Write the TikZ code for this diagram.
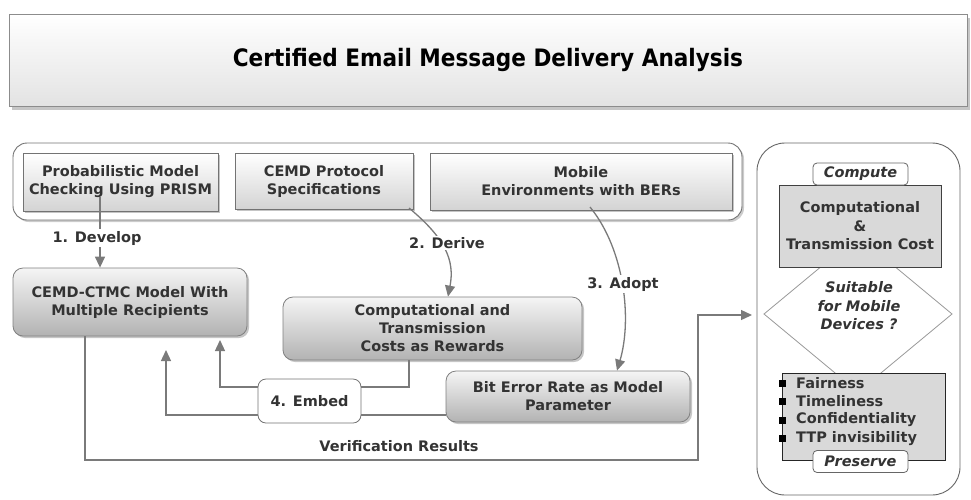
\documentclass[tikz,border=0pt]{standalone}
\usepackage{fontspec}
\setmainfont{DejaVu Sans}
\newfontfamily\titlefont{DejaVu Sans Condensed}
\usetikzlibrary{arrows.meta,shadows,calc}
\definecolor{txt}{HTML}{333333}
\definecolor{ln}{HTML}{7A7A7A}
\tikzset{
  every node/.style={text=txt},
  boxfont/.style={font=\fontsize{14.5}{18}\selectfont\bfseries},
  topbox/.style={boxfont, rectangle, draw=black!55, line width=0.8pt, top color=white, bottom color=black!17, drop shadow={shadow xshift=2pt, shadow yshift=-2pt, opacity=0.45}, align=center, inner sep=0pt},
  rbox/.style={boxfont, rectangle, rounded corners=10pt, draw=black!50, line width=0.8pt, top color=black!4, bottom color=black!30, drop shadow={shadow xshift=2pt, shadow yshift=-2pt, opacity=0.45}, align=center, inner sep=0pt},
  lbl/.style={boxfont, fill=white, inner sep=1.5pt},
  conn/.style={draw=ln, line width=1.3pt},
  arr/.style={conn, -{Triangle[length=11pt,width=10pt]}},
  tag/.style={font=\fontsize{14.5}{18}\selectfont\itshape\bfseries, rectangle, rounded corners=4pt, draw=black!60, line width=0.8pt, fill=white, inner sep=0pt, minimum width=95pt, minimum height=22pt},
}
\begin{document}
\begin{tikzpicture}[x=1pt,y=-1pt]
\useasboundingbox (0,0) rectangle (971,499);
% title
\node[rectangle, draw=black!45, line width=0.8pt, top color=white, bottom color=black!11, drop shadow={shadow xshift=3pt, shadow yshift=-4pt, opacity=0.45}, minimum width=958pt, minimum height=92pt, inner sep=0pt, font=\titlefont\fontsize{24}{28}\selectfont\bfseries, text=black] (title) at (488,60) {Certified Email Message Delivery Analysis};
% top container
\node[rectangle, rounded corners=14pt, draw=black!55, line width=0.9pt, fill=white, drop shadow={shadow xshift=2pt, shadow yshift=-2pt, opacity=0.4}, minimum width=729pt, minimum height=77pt, inner sep=0pt] (top) at (377.5,181.5) {};
\node[topbox, minimum width=195pt, minimum height=58pt] (prism) at (120.5,182) {Probabilistic Model\\Checking Using PRISM};
\node[topbox, minimum width=178pt, minimum height=56pt] (spec) at (324,181) {CEMD Protocol\\Specifications};
\node[topbox, minimum width=302pt, minimum height=57pt] (mobile) at (581,181.5) {Mobile\\Environments with BERs};
% middle boxes
\node[rbox, minimum width=234pt, minimum height=68pt] (ctmc) at (130,302) {CEMD-CTMC Model With\\Multiple Recipients};
\node[rbox, minimum width=299pt, minimum height=63pt] (comp) at (432.5,328.5) {Computational and\\Transmission\\Costs as Rewards};
\node[rbox, minimum width=244pt, minimum height=51pt] (ber) at (568,396.5) {Bit Error Rate as Model\\Parameter};
\node[boxfont, rectangle, rounded corners=8pt, draw=black!55, line width=0.8pt, fill=white, minimum width=103pt, minimum height=44pt, inner sep=0pt] (embed) at (309.5,401) {4. Embed};
% coordinates
\coordinate (d1) at (100,197);
\coordinate (d2) at (409,208);
\coordinate (d3) at (590,207);
\coordinate (e1) at (409,387);
\coordinate (e2) at (220,340);
\coordinate (f1) at (446,415);
\coordinate (f2) at (166,350);
\coordinate (v0) at (85,336);
\coordinate (v1) at (698,460);
\coordinate (v2) at (752,315);
% connectors
\draw[arr] (d1) -- (d1 |- ctmc.north);
\node[lbl] (l1) at (97,238) {1. Develop};
\draw[arr] (d2) .. controls (445,238) and (455,260) .. (comp.north -| 448,0);
\node[lbl] (l2) at (447,243) {2. Derive};
\draw[arr] (d3) .. controls (625,250) and (632,320) .. (ber.north -| 617,0);
\node[lbl] (l3) at (623,284) {3. Adopt};
\draw[conn] (comp.south -| e1) |- (e1 -| embed.east);
\draw[arr] (e1 -| embed.west) -| (e2);
\draw[conn] (f1) -- (f1 -| embed.east);
\draw[arr] (f1 -| embed.west) -| (f2);
\draw[arr] (v0) |- (v1) |- (v2);
\node[boxfont] (vr) at (399,446) {Verification Results};
% right container
\node[rectangle, rounded corners=28pt, draw=black!60, line width=0.9pt, fill=white, minimum width=203pt, minimum height=352pt, inner sep=0pt] (right) at (858.5,319) {};
\draw[draw=black!40, line width=0.8pt, fill=white] (764,314) -- (858,236) -- (952,314) -- (858,392) -- cycle;
\node[font=\fontsize{14.5}{18.5}\selectfont\itshape\bfseries, align=center] (suit) at (859,306) {Suitable\\for Mobile\\Devices ?};
\node[rectangle, draw=black!75, line width=0.8pt, fill=black!15, minimum width=162pt, minimum height=82pt, inner sep=0pt, align=center, font=\fontsize{14.5}{18.5}\selectfont\bfseries] (cost) at (860,226) {Computational\\\&\\Transmission Cost};
\node[tag] (compute) at (860.5,174) {Compute};
\node[rectangle, draw=black!85, line width=0.8pt, fill=black!15, minimum width=163pt, minimum height=87pt, inner sep=0pt] (list) at (863.5,416.5) {};
\foreach \y/\t in {383/Fairness, 401.5/Timeliness, 420/Confidentiality, 438.5/TTP invisibility}{
  \fill[black] (782,\y) ++(-3,-3.5) rectangle ++(6.5,7);
  \node[boxfont, anchor=west, inner sep=0pt] at (796,\y) {\t};
}
\node[tag] (preserve) at (860.5,461.5) {Preserve};
\end{tikzpicture}
\end{document}
